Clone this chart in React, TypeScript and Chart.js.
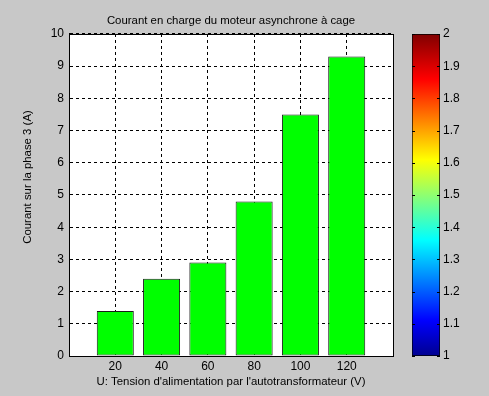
import React, { useEffect, useRef } from "react";
import { Chart, registerables } from "chart.js";

Chart.register(...registerables);

const voltages = [20, 40, 60, 80, 100, 120];
const currents = [1.4, 2.4, 2.9, 4.8, 7.5, 9.3];
const titleText = "Courant en charge du moteur asynchrone à cage";
const xTitle = "U: Tension d'alimentation par l'autotransformateur (V)";
const yTitle = "Courant sur la phase 3 (A)";
const colorbarRange = [1, 2];

const FONT = "'Liberation Sans', Arial, sans-serif";
const BG = "#C8C8C8";
const LABEL_SIZE = 11.4;

const jetStops: [number, string][] = [
  [0, "rgb(0,0,143)"],
  [0.11, "rgb(0,0,255)"],
  [0.36, "rgb(0,255,255)"],
  [0.61, "rgb(255,255,0)"],
  [0.86, "rgb(255,0,0)"],
  [1, "rgb(128,0,0)"],
];

const plotBgPlugin = {
  id: "plotBg",
  beforeDraw(chart: any) {
    const { ctx, chartArea: a } = chart;
    ctx.save();
    ctx.fillStyle = "#ffffff";
    ctx.fillRect(a.left, a.top, a.right - a.left, a.bottom - a.top);
    ctx.restore();
  },
  afterDraw(chart: any) {
    const { ctx, chartArea: a } = chart;
    ctx.save();
    ctx.strokeStyle = "#000";
    ctx.lineWidth = 1;
    ctx.strokeRect(Math.round(a.left) + 0.5, Math.round(a.top) + 0.5, Math.round(a.right - a.left), Math.round(a.bottom - a.top));
    // y title
    ctx.translate(28, (a.top + a.bottom) / 2 - 18);
    ctx.rotate(-Math.PI / 2);
    ctx.fillStyle = "#000";
    ctx.font = `${LABEL_SIZE}px ${FONT}`;
    ctx.textAlign = "center";
    ctx.textBaseline = "middle";
    ctx.fillText(yTitle, 0, 0);
    ctx.restore();
  },
};

const cbTicksPlugin = {
  id: "cbTicks",
  afterDraw(chart: any) {
    const { ctx, chartArea: a, scales } = chart;
    const y = scales.y;
    ctx.save();
    ctx.strokeStyle = "#000";
    ctx.lineWidth = 1;
    y.ticks.forEach((t: any) => {
      const py = Math.round(y.getPixelForValue(t.value)) + 0.5;
      ctx.beginPath();
      ctx.moveTo(a.left, py);
      ctx.lineTo(a.left + 3, py);
      ctx.moveTo(a.right, py);
      ctx.lineTo(a.right - 3, py);
      ctx.stroke();
    });
    ctx.restore();
  },
};

export default function App() {
  const mainRef = useRef<HTMLCanvasElement>(null);
  const cbRef = useRef<HTMLCanvasElement>(null);

  useEffect(() => {
    const main = new Chart(mainRef.current!, {
      type: "bar",
      data: {
        datasets: [
          {
            data: voltages.map((v, i) => ({ x: v, y: currents[i] })),
            backgroundColor: "#00FF00",
            borderColor: "#1a1a1a",
            borderWidth: 1,
            borderSkipped: false,
            barPercentage: 0.8,
            categoryPercentage: 1,
          },
        ],
      },
      options: {
        animation: false,
        responsive: false,
        layout: { padding: { right: 96, left: 0, bottom: 0, top: 0 } },
        plugins: {
          legend: { display: false },
          tooltip: { enabled: false },
          title: {
            display: true,
            fullSize: false,
            text: titleText,
            color: "#000",
            font: { family: FONT, size: LABEL_SIZE, weight: "normal" },
            padding: { top: 14, bottom: 6.3 },
          },
        },
        scales: {
          x: {
            type: "linear",
            min: 0,
            max: 140,
            offset: false,
            afterFit: (s: any) => {
              s.height = 40;
            },
            ticks: {
              stepSize: 20,
              color: "#000",
              font: { family: FONT, size: 12 },
              padding: 3,
              maxRotation: 0,
              callback: (v: any) => (v === 0 || v === 140 ? "" : String(v)),
            },
            grid: {
              offset: false,
              color: "#000",
              lineWidth: 1,
              drawTicks: false,
            },
            border: { display: true, color: "#000", dash: [3, 3] },
            title: {
              display: true,
              text: xTitle,
              color: "#000",
              font: { family: FONT, size: LABEL_SIZE },
              padding: { top: 0, bottom: 7.5 },
            },
          },
          y: {
            min: 0,
            max: 10,
            afterFit: (s: any) => {
              s.width = 69;
            },
            ticks: {
              stepSize: 1,
              color: "#000",
              font: { family: FONT, size: 12 },
              padding: 5,
            },
            grid: { color: "#000", lineWidth: 1, drawTicks: false },
            border: { display: true, color: "#000", dash: [3, 3] },
          },
        },
      } as any,
      plugins: [plotBgPlugin],
    });

    const cb = new Chart(cbRef.current!, {
      type: "bar",
      data: {
        labels: [""],
        datasets: [
          {
            data: [colorbarRange as any],
            backgroundColor: (ctx: any) => {
              const a = ctx.chart.chartArea;
              if (!a) return "#00f";
              const g = ctx.chart.ctx.createLinearGradient(0, a.bottom, 0, a.top);
              jetStops.forEach(([p, c]) => g.addColorStop(p, c));
              return g;
            },
            borderColor: "#000",
            borderWidth: 1,
            borderSkipped: false,
            barPercentage: 1,
            categoryPercentage: 1,
          },
        ],
      },
      options: {
        animation: false,
        responsive: false,
        layout: { padding: { left: 12, top: 34, bottom: 40, right: 0 } },
        plugins: { legend: { display: false }, tooltip: { enabled: false } },
        scales: {
          x: { display: false },
          y: {
            position: "right",
            min: colorbarRange[0],
            max: colorbarRange[1],
            afterFit: (s: any) => {
              s.width = 49;
            },
            ticks: {
              stepSize: 0.1,
              color: "#000",
              font: { family: FONT, size: 12 },
              padding: 3,
              callback: (v: any) => String(Math.round(Number(v) * 10) / 10),
            },
            grid: { display: false, drawTicks: false },
            border: { display: false },
          },
        },
      } as any,
      plugins: [cbTicksPlugin],
    });

    return () => {
      main.destroy();
      cb.destroy();
    };
  }, []);

  return (
    <div
      style={{
        position: "absolute",
        left: 0,
        top: 0,
        width: 489,
        height: 396,
        background: BG,
      }}
    >
      <canvas
        ref={mainRef}
        width={489}
        height={396}
        style={{ position: "absolute", left: 0, top: 0 }}
      />
      <canvas
        ref={cbRef}
        width={89}
        height={396}
        style={{ position: "absolute", left: 400, top: 0 }}
      />
    </div>
  );
}
